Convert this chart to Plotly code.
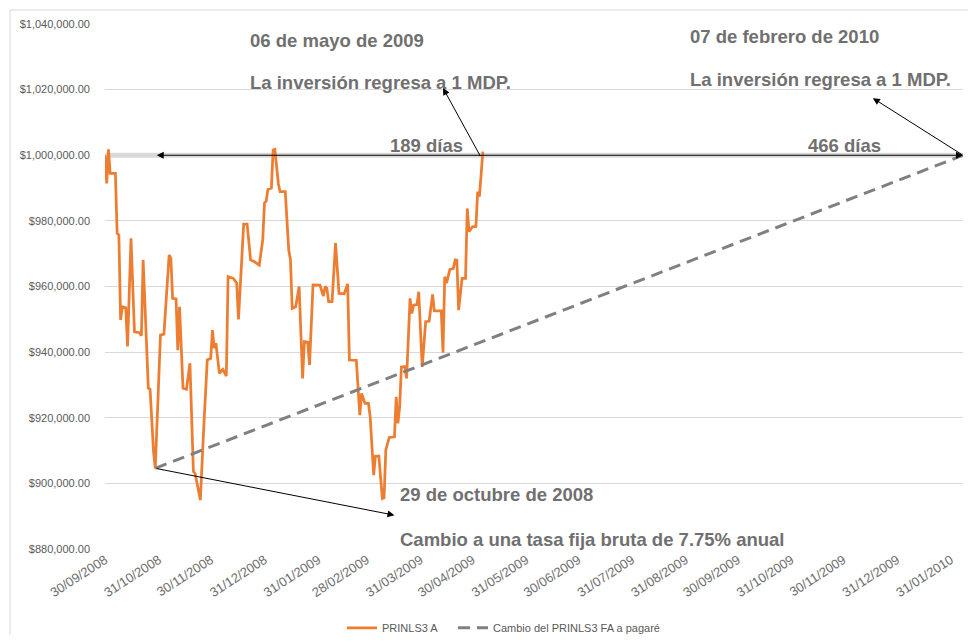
import plotly.graph_objects as go

# --- Data ---
prinls_dates = [
    "2008-09-30", "2008-10-01", "2008-10-02", "2008-10-03", "2008-10-06", "2008-10-07",
    "2008-10-08", "2008-10-09", "2008-10-10", "2008-10-12", "2008-10-13", "2008-10-15",
    "2008-10-17", "2008-10-20", "2008-10-21", "2008-10-22", "2008-10-25", "2008-10-26",
    "2008-10-28", "2008-10-29", "2008-11-01", "2008-11-03", "2008-11-06", "2008-11-07",
    "2008-11-08", "2008-11-10", "2008-11-11", "2008-11-12", "2008-11-14", "2008-11-16",
    "2008-11-18", "2008-11-20", "2008-11-21", "2008-11-24", "2008-11-26", "2008-11-28",
    "2008-11-30", "2008-12-01", "2008-12-02", "2008-12-03", "2008-12-05", "2008-12-07",
    "2008-12-09", "2008-12-10", "2008-12-13", "2008-12-15", "2008-12-16", "2008-12-19",
    "2008-12-21", "2008-12-23", "2008-12-25", "2008-12-28", "2008-12-30", "2008-12-31",
    "2009-01-01", "2009-01-02", "2009-01-04", "2009-01-05", "2009-01-06", "2009-01-08",
    "2009-01-09", "2009-01-12", "2009-01-14", "2009-01-15", "2009-01-16", "2009-01-18",
    "2009-01-20", "2009-01-22", "2009-01-23", "2009-01-25", "2009-01-26", "2009-01-28",
    "2009-02-01", "2009-02-03", "2009-02-04", "2009-02-05", "2009-02-06", "2009-02-08",
    "2009-02-10", "2009-02-12", "2009-02-15", "2009-02-17", "2009-02-18", "2009-02-22",
    "2009-02-24", "2009-02-25", "2009-02-27", "2009-03-01", "2009-03-02", "2009-03-04",
    "2009-03-05", "2009-03-07", "2009-03-09", "2009-03-10", "2009-03-11", "2009-03-13",
    "2009-03-16", "2009-03-17", "2009-03-18", "2009-03-19", "2009-03-20", "2009-03-22",
    "2009-03-23", "2009-03-25", "2009-03-26", "2009-03-27", "2009-03-29", "2009-03-30",
    "2009-04-01", "2009-04-03", "2009-04-05", "2009-04-07", "2009-04-08", "2009-04-12",
    "2009-04-13", "2009-04-14", "2009-04-15", "2009-04-17", "2009-04-19", "2009-04-20",
    "2009-04-21", "2009-04-22", "2009-04-24", "2009-04-26", "2009-04-27", "2009-04-28",
    "2009-04-30", "2009-05-02", "2009-05-03", "2009-05-04", "2009-05-06",
]
prinls_values = [
    1000000, 991400, 1001800, 994500, 994500, 976200,
    975700, 949800, 953800, 953500, 941700, 974700,
    946200, 945900, 945000, 968100, 929000, 928700,
    909700, 904600, 945200, 945500, 969600, 968600,
    956400, 956200, 940600, 953800, 929000, 928700,
    936600, 903600, 903000, 894900, 917300, 937600,
    938100, 946700, 941200, 942700, 933500, 934700,
    932700, 963000, 962500, 961000, 950000, 979000,
    979000, 968100, 967600, 966500, 974200, 985400,
    986000, 989600, 990000, 1001600, 1001800, 991400,
    988900, 988900, 971100, 968100, 953300, 953800,
    960000, 932000, 943200, 943000, 936100, 960500,
    960400, 957100, 960000, 959500, 955400, 955400,
    973200, 957900, 957800, 960800, 937600, 937500,
    920800, 927400, 924400, 924400, 920300, 902500,
    908300, 908300, 895400, 895600, 910200, 914000,
    914200, 926400, 918300, 923400, 935500, 935600,
    932000, 956400, 951800, 954300, 954500, 958400,
    935500, 949300, 949400, 957600, 952600, 952600,
    939800, 963000, 961000, 965200, 965500, 968100,
    968000, 952800, 962500, 962500, 983800, 976700,
    978200, 978300, 988900, 987400, 1001100,
]

pagare_dates = ["2008-10-29", "2010-02-07"]
pagare_values = [904600, 1000000]

ref_dates = ["2008-09-30", "2010-02-07"]
ref_values = [1000000, 1000000]

tick_dates = [
    "2008-09-30", "2008-10-31", "2008-11-30", "2008-12-31", "2009-01-31", "2009-02-28",
    "2009-03-31", "2009-04-30", "2009-05-31", "2009-06-30", "2009-07-31", "2009-08-31",
    "2009-09-30", "2009-10-31", "2009-11-30", "2009-12-31", "2010-01-31",
]
tick_labels = [
    "30/09/2008", "31/10/2008", "30/11/2008", "31/12/2008", "31/01/2009", "28/02/2009",
    "31/03/2009", "30/04/2009", "31/05/2009", "30/06/2009", "31/07/2009", "31/08/2009",
    "30/09/2009", "31/10/2009", "30/11/2009", "31/12/2009", "31/01/2010",
]

series_names = ["PRINLS3 A", "Cambio del PRINLS3 FA a pagaré"]

TEXT_GREY = "#707070"
AXIS_GREY = "#595959"
FONT = "Liberation Sans, Arial, sans-serif"

fig = go.Figure()

fig.add_trace(go.Scatter(
    x=ref_dates, y=ref_values, mode="lines",
    line=dict(color="#d9d9d9", width=5), showlegend=False, hoverinfo="skip",
))
fig.add_trace(go.Scatter(
    x=prinls_dates, y=prinls_values, mode="lines", name=series_names[0],
    line=dict(color="#ED7D31", width=2.75), legend="legend",
))
fig.add_trace(go.Scatter(
    x=pagare_dates, y=pagare_values, mode="lines", name=series_names[1],
    line=dict(color="#808080", width=3, dash="12px,7px"), legend="legend2",
))

annotations = []

def txt(x, y, s):
    annotations.append(dict(
        x=x, y=y, xref="paper", yref="paper", text=s, showarrow=False,
        xanchor="left", yanchor="middle",
        font=dict(family=FONT, size=18.5, color=TEXT_GREY, weight="bold"),
    ))

txt(0.1667, 0.9695, "06 de mayo de 2009")
txt(0.1667, 0.8895, "La inversión regresa a 1 MDP.")
txt(0.6795, 0.977, "07 de febrero de 2010")
txt(0.6795, 0.895, "La inversión regresa a 1 MDP.")
txt(0.3297, 0.7695, "189 días")
txt(0.8167, 0.7695, "466 días")
txt(0.3415, 0.1029, "29 de octubre de 2008")
txt(0.3415, 0.019, "Cambio a una tasa fija bruta de 7.75% anual")

def arrow(x, y, ax, ay, side="end"):
    annotations.append(dict(
        x=x, y=y, ax=ax, ay=ay, xref="x", yref="y", axref="x", ayref="y",
        text="", showarrow=True, arrowhead=2, arrowsize=1.4, arrowwidth=1,
        arrowcolor="#000000", arrowside=side, standoff=0, startstandoff=0,
    ))

arrow("2010-02-07", 1000000, "2008-10-29", 1000000, side="end+start")
arrow("2009-04-13", 1020500, "2009-05-05", 999300)
arrow("2009-12-17", 1017400, "2010-02-07", 1000000)
arrow("2009-03-16", 890300, "2008-10-29", 904600)

legend_style = dict(
    orientation="h", y=-0.15, xanchor="left", yanchor="middle",
    font=dict(size=11, color=AXIS_GREY, family=FONT),
    bgcolor="rgba(0,0,0,0)",
)

# The page body adds an 8px offset; the figure is sized so the plot area lands
# where the reference's does inside the 976x643 window.
fig.update_layout(
    width=960, height=627,
    margin=dict(l=97, r=5, t=16, b=86, autoexpand=False),
    paper_bgcolor="white", plot_bgcolor="white",
    font=dict(family=FONT, color=AXIS_GREY),
    annotations=annotations,
    showlegend=True,
    legend=dict(x=0.2762, **legend_style),
    legend2=dict(x=0.4056, **legend_style),
    shapes=[dict(
        type="rect", xref="paper", yref="paper",
        x0=-0.1107, x1=1.03, y0=-0.2, y1=1.0267,
        line=dict(color="#d9d9d9", width=1), fillcolor="rgba(0,0,0,0)", layer="below",
    )],
)

fig.update_xaxes(
    type="date", range=["2008-09-30", "2010-02-07"], automargin=False,
    tickvals=tick_dates, ticktext=tick_labels, tickangle=-33,
    showgrid=False, zeroline=False, showline=False, ticks="",
    tickfont=dict(size=13, color="#6e6e6e", family=FONT),
)
fig.update_yaxes(
    range=[880000, 1040000], dtick=20000, tickformat="$,.2f", automargin=False,
    showgrid=True, gridcolor="#d9d9d9", gridwidth=1, zeroline=False, showline=False,
    tickfont=dict(size=11, color=AXIS_GREY, family=FONT), ticks="", ticklabelstandoff=14,
)

fig.write_html("out.html")
